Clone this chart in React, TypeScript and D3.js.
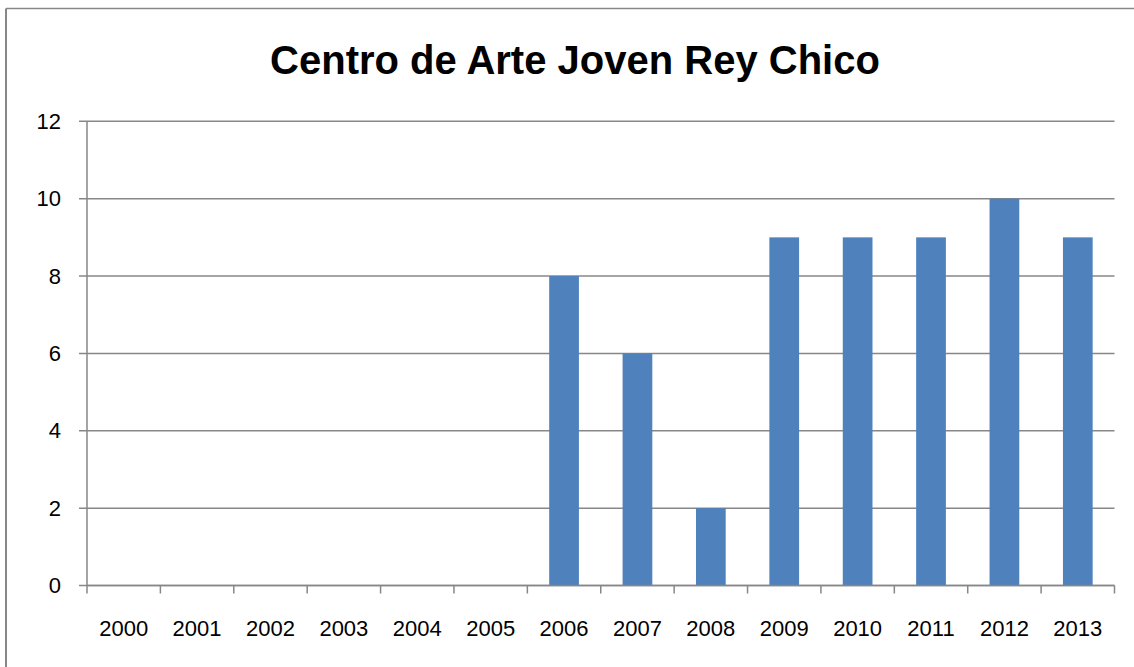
import React from "react";
import * as d3 from "d3";

const years = ["2000", "2001", "2002", "2003", "2004", "2005", "2006", "2007", "2008", "2009", "2010", "2011", "2012", "2013"];
const counts = [0, 0, 0, 0, 0, 0, 8, 6, 2, 9, 9, 9, 10, 9];
const yTicks = [0, 2, 4, 6, 8, 10, 12];
const title = "Centro de Arte Joven Rey Chico";

const W = 1134;
const H = 667;
const left = 87;
const right = 1114.5;
const top = 121.3;
const bottom = 585.5;
const grey = "#878787";
const font = "'Liberation Sans', Arial, sans-serif";

export default function App() {
  const x = d3.scaleBand<string>().domain(years).range([left, right]).paddingInner(0).paddingOuter(0);
  const y = d3.scaleLinear().domain([0, 12]).range([bottom, top]);
  const barW = x.bandwidth() * 0.405;

  return (
    <svg
      width={W}
      height={H}
      style={{ position: "absolute", left: 0, top: 0, display: "block", background: "#fff" }}
    >
      {/* chart frame */}
      <line x1={6} x2={6} y1={8.5} y2={H} stroke={grey} strokeWidth={2} />
      <line x1={6} x2={W} y1={8.5} y2={8.5} stroke={grey} strokeWidth={1.5} />

      <text x={575} y={74} textAnchor="middle" fontFamily={font} fontWeight="bold" fontSize={40} fill="#000">
        {title}
      </text>

      {/* gridlines + y labels */}
      {yTicks.map((t) => (
        <g key={t}>
          <line x1={left - 8} x2={right} y1={y(t)} y2={y(t)} stroke={grey} strokeWidth={1.5} />
          <text x={61} y={y(t)} dy="0.35em" textAnchor="end" fontFamily={font} fontSize={22} fill="#000">
            {t}
          </text>
        </g>
      ))}

      {/* y axis line */}
      <line x1={left} x2={left} y1={top} y2={bottom} stroke={grey} strokeWidth={1.5} />

      {/* bars */}
      {years.map((yr, i) => (
        <rect
          key={yr}
          x={(x(yr) as number) + (x.bandwidth() - barW) / 2}
          y={y(counts[i])}
          width={barW}
          height={bottom - y(counts[i])}
          fill="#4F81BD"
        />
      ))}

      {/* x axis ticks */}
      {years.concat(["end"]).map((yr, i) => {
        const px = left + i * x.bandwidth();
        return <line key={"t" + yr} x1={px} x2={px} y1={bottom} y2={bottom + 8} stroke={grey} strokeWidth={1.5} />;
      })}
      <line x1={left} x2={right} y1={bottom} y2={bottom} stroke={grey} strokeWidth={1.5} />

      {years.map((yr) => (
        <text
          key={"l" + yr}
          x={(x(yr) as number) + x.bandwidth() / 2}
          y={636}
          textAnchor="middle"
          fontFamily={font}
          fontSize={22}
          fill="#000"
        >
          {yr}
        </text>
      ))}
    </svg>
  );
}
